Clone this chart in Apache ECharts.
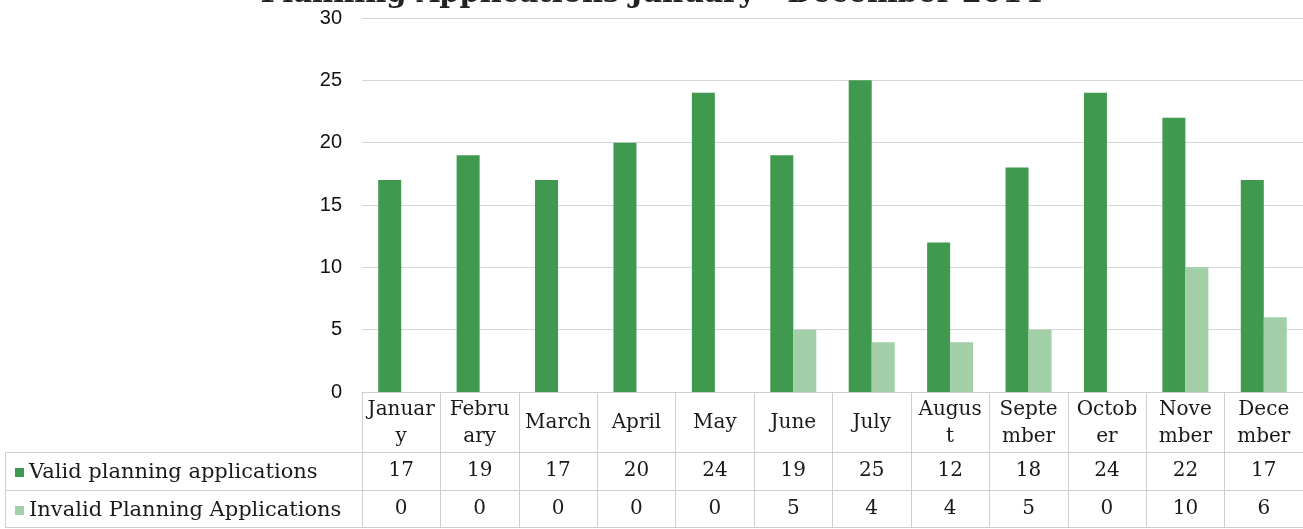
<!DOCTYPE html>
<html>
<head>
<meta charset="utf-8">
<script src="https://cdn.jsdelivr.net/npm/echarts@6/dist/echarts.min.js"></script>
<style>
  html, body { margin: 0; padding: 0; background: #fff; }
  #chart { width: 1303px; height: 529px; }
</style>
</head>
<body>
<div id="chart"></div>
<script>
// month labels as they wrap in the table header
var months = ['Januar\ny', 'Febru\nary', 'March', 'April', 'May', 'June', 'July',
    'Augus\nt', 'Septe\nmber', 'Octob\ner', 'Nove\nmber', 'Dece\nmber'];
var validApps = [17, 19, 17, 20, 24, 19, 25, 12, 18, 24, 22, 17];
var invalidApps = [0, 0, 0, 0, 0, 5, 4, 4, 5, 0, 10, 6];
var yTicks = [0, 5, 10, 15, 20, 25, 30];

var serif = '"DejaVu Serif", "Liberation Serif", serif';
var lineCol = '#cfcfcf';

var chart = echarts.init(document.getElementById('chart'));

// 表格的一行：只画横线和数值
function rowAxis(offset, values) {
    return {
        type: 'category',
        data: months,
        position: 'bottom',
        offset: offset,
        axisLine: { show: true, lineStyle: { color: lineCol, width: 1 } },
        axisTick: { show: false },
        axisLabel: {
            show: values != null,
            interval: 0,
            margin: 19,
            verticalAlign: 'middle',
            fontFamily: serif,
            fontSize: 20,
            color: '#1a1a1a',
            formatter: function (v, i) { return values ? String(values[i]) : ''; }
        }
    };
}

var option = {
    backgroundColor: '#fff',
    animation: false,
    title: {
        text: 'Planning Applications January - December 2014',
        left: 'center',
        top: -25,
        textStyle: { fontFamily: serif, fontWeight: 'bold', fontSize: 29, color: '#222' }
    },
    legend: {
        orient: 'vertical',
        left: 15,
        top: 462,
        padding: 0,
        itemWidth: 9,
        itemHeight: 9,
        itemGap: 17,
        icon: 'rect',
        textStyle: { fontFamily: serif, fontSize: 21, color: '#1a1a1a', lineHeight: 21 },
        data: ['Valid planning applications', 'Invalid Planning Applications']
    },
    grid: { left: 362, width: 944, top: 18, bottom: 137 },
    xAxis: [{
        type: 'category',
        data: months,
        axisLine: { show: true, lineStyle: { color: lineCol, width: 1 } },
        axisTick: { show: true, interval: 0, length: 136, lineStyle: { color: lineCol } },
        axisLabel: {
            interval: 0,
            margin: 31,
            verticalAlign: 'middle',
            align: 'center',
            lineHeight: 27,
            fontFamily: serif,
            fontSize: 20,
            color: '#1a1a1a'
        }
    },
        rowAxis(60, validApps),
        rowAxis(98, invalidApps),
        rowAxis(135, null)
    ],
    yAxis: {
        type: 'value',
        min: yTicks[0],
        max: yTicks[yTicks.length - 1],
        interval: 5,
        axisLine: { show: false },
        axisTick: { show: false },
        splitLine: { lineStyle: { color: '#d6d6d6', width: 1 } },
        axisLabel: { margin: 20, fontFamily: '"Liberation Sans", Arial, sans-serif', fontSize: 20, color: '#111' }
    },
    series: [{
        name: 'Valid planning applications',
        type: 'bar',
        data: validApps,
        barWidth: 23,
        barGap: '0%',
        itemStyle: { color: '#3f9a4f' }
    }, {
        name: 'Invalid Planning Applications',
        type: 'bar',
        data: invalidApps,
        barWidth: 23,
        itemStyle: { color: '#a2cfa8' }
    }],
    // 左侧图例栏的表格线
    graphic: [
        { type: 'line', shape: { x1: 5, y1: 452.5, x2: 362, y2: 452.5 }, style: { stroke: lineCol } },
        { type: 'line', shape: { x1: 5, y1: 490.5, x2: 362, y2: 490.5 }, style: { stroke: lineCol } },
        { type: 'line', shape: { x1: 5, y1: 527.5, x2: 362, y2: 527.5 }, style: { stroke: lineCol } },
        { type: 'line', shape: { x1: 5.5, y1: 452, x2: 5.5, y2: 528 }, style: { stroke: lineCol } }
    ]
};

chart.setOption(option);
</script>
</body>
</html>
